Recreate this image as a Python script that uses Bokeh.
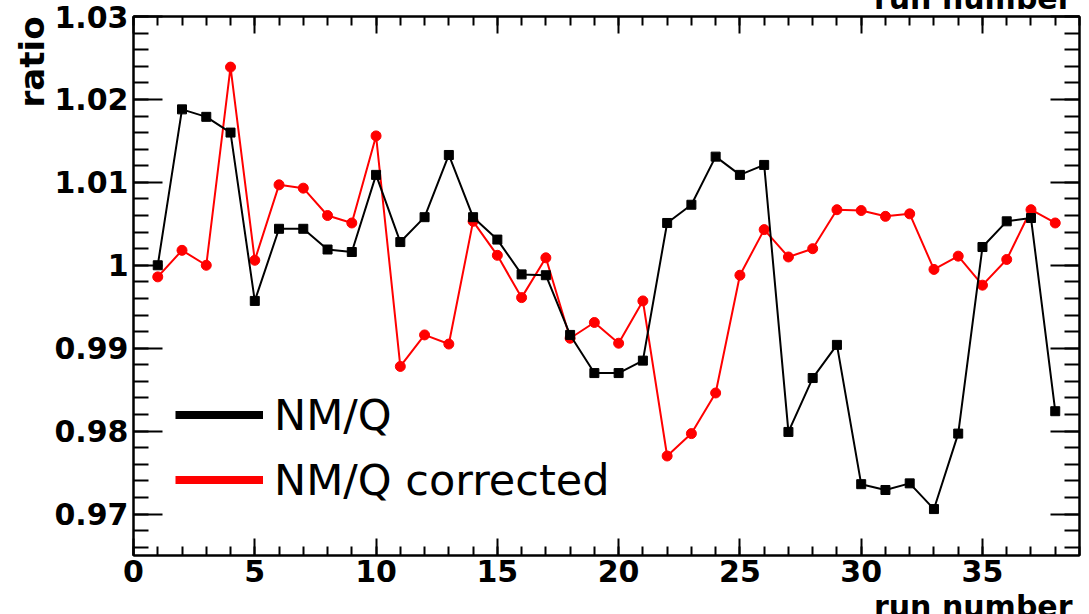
import math
from bokeh.plotting import figure
from bokeh.models import (ColumnDataSource, LinearAxis, SingleIntervalTicker,
                          CustomJSTickFormatter, Legend, LegendItem, Range1d, Title)
from bokeh.embed import file_html
from bokeh.resources import INLINE

# ---------------- data ----------------
runs = list(range(1, 39))
nmq = [1.0000, 1.0188, 1.0179, 1.0160, 0.9957, 1.0044, 1.0044, 1.0019, 1.0016, 1.0109,
       1.0028, 1.0058, 1.0133, 1.0058, 1.0031, 0.9989, 0.9988, 0.9916, 0.9870, 0.9870,
       0.9885, 1.0051, 1.0073, 1.0131, 1.0109, 1.0121, 0.9799, 0.9864, 0.9904, 0.9736,
       0.9729, 0.9737, 0.9706, 0.9797, 1.0022, 1.0053, 1.0057, 0.9824]
nmq_corrected = [0.9986, 1.0018, 1.0000, 1.0239, 1.0006, 1.0097, 1.0093, 1.0060, 1.0051, 1.0156,
                 0.9878, 0.9916, 0.9905, 1.0053, 1.0012, 0.9961, 1.0009, 0.9912, 0.9931, 0.9906,
                 0.9957, 0.9770, 0.9797, 0.9846, 0.9988, 1.0043, 1.0010, 1.0020, 1.0067, 1.0066,
                 1.0059, 1.0062, 0.9995, 1.0011, 0.9976, 1.0007, 1.0067, 1.0051]
series_names = ["NM/Q", "NM/Q corrected"]
x_title = "run number"
y_title = "ratio"

TICK_FONT = "DejaVu Sans"

p = figure(width=1089, height=614, output_backend="svg", toolbar_location=None,
           x_range=Range1d(0, 39), y_range=Range1d(0.965, 1.03),
           x_axis_location=None, y_axis_location=None,
           min_border_left=133, min_border_right=10, min_border_top=16, min_border_bottom=59,
           background_fill_color="white", border_fill_color="white")
p.grid.visible = False
p.outline_line_color = "black"
p.outline_line_width = 2

blank = CustomJSTickFormatter(code="return '';")


def style_axis(ax, major_in, minor_in, show_labels):
    ax.axis_line_color = "black"
    ax.axis_line_width = 2
    ax.major_tick_line_color = "black"
    ax.major_tick_line_width = 2
    ax.minor_tick_line_color = "black"
    ax.minor_tick_line_width = 2
    ax.major_tick_in = major_in
    ax.major_tick_out = 0
    ax.minor_tick_in = minor_in
    ax.minor_tick_out = 0
    if show_labels:
        ax.major_label_text_font = TICK_FONT
        ax.major_label_text_font_style = "bold"
        ax.major_label_text_font_size = "30px"
        ax.major_label_text_color = "black"
    else:
        ax.formatter = blank
        ax.major_label_text_font_size = "1px"
        ax.major_label_standoff = 0


yfmt = CustomJSTickFormatter(code=r"return tick.toFixed(2).replace(/\.?0+$/, '');")

bottom = LinearAxis(ticker=SingleIntervalTicker(interval=5, num_minor_ticks=5))
style_axis(bottom, 17, 9, True)
bottom.major_label_standoff = 4
top = LinearAxis(ticker=SingleIntervalTicker(interval=5, num_minor_ticks=5))
style_axis(top, 17, 9, False)
left = LinearAxis(ticker=SingleIntervalTicker(interval=0.01, num_minor_ticks=5), formatter=yfmt)
style_axis(left, 29, 15, True)
left.major_label_standoff = 5
right = LinearAxis(ticker=SingleIntervalTicker(interval=0.01, num_minor_ticks=5))
style_axis(right, 29, 15, False)

p.add_layout(bottom, "below")
p.add_layout(top, "above")
p.add_layout(left, "left")
p.add_layout(right, "right")

src = ColumnDataSource(data=dict(run=runs, nmq=nmq, corr=nmq_corrected))

# corrected (red) first, raw (black) on top
p.line("run", "corr", source=src, line_color="#ff0000", line_width=2)
p.scatter("run", "corr", source=src, marker="circle", size=10,
          fill_color="#ff0000", line_color="#ff0000")
p.line("run", "nmq", source=src, line_color="black", line_width=2)
p.scatter("run", "nmq", source=src, marker="square", size=9,
          fill_color="black", line_color="black")

# legend: glyph-only renderers that draw nothing in the frame
nan = float("nan")
empty = ColumnDataSource(data=dict(x=[nan], y=[nan]))
leg_black = p.line("x", "y", source=empty, line_color="black", line_width=8)
leg_red = p.line("x", "y", source=empty, line_color="#ff0000", line_width=8)
legend = Legend(items=[LegendItem(label=series_names[0], renderers=[leg_black]),
                       LegendItem(label=series_names[1], renderers=[leg_red])],
                location=(42, 43), orientation="vertical", padding=0, margin=0, spacing=0,
                glyph_width=88, glyph_height=65, label_height=65, label_standoff=11,
                label_text_font="DejaVu Sans", label_text_font_size="43px",
                label_text_color="black", border_line_alpha=0, background_fill_alpha=0)
p.add_layout(legend)

# axis titles, ROOT style (at the far ends of the axes); the page edge cuts the x titles
p.add_layout(Title(text=y_title, align="right", vertical_align="bottom", standoff=0, offset=0,
                   text_font=TICK_FONT, text_font_style="bold", text_font_size="34px",
                   text_color="black"), "left")
p.add_layout(Title(text="\n" + x_title, align="right", vertical_align="bottom", standoff=-66,
                   offset=7, text_line_height=1.0,
                   text_font=TICK_FONT, text_font_style="bold", text_font_size="30px",
                   text_color="black"), "below")
p.add_layout(Title(text=x_title + "\n", align="right", vertical_align="top", standoff=-72,
                   offset=7, text_line_height=1.0,
                   text_font=TICK_FONT, text_font_style="bold", text_font_size="30px",
                   text_color="black"), "above")

open("out.html", "w").write(file_html(p, INLINE))
